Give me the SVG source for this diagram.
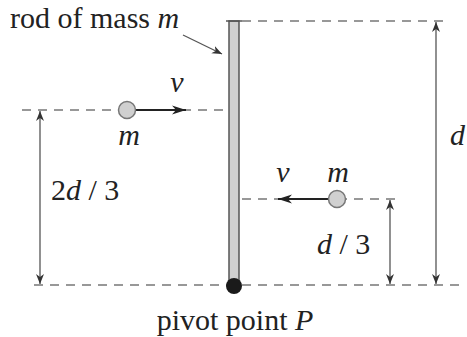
<svg xmlns="http://www.w3.org/2000/svg" width="467" height="337" viewBox="0 0 467 337">
<defs>
<marker id="ah" viewBox="0 0 10 10" refX="10" refY="5" markerWidth="10" markerHeight="10" markerUnits="userSpaceOnUse" orient="auto-start-reverse">
<path d="M0,1 L10,5 L0,9 L3,5 Z" fill="#333"/>
</marker>
<marker id="vh" viewBox="0 0 14 10" refX="14" refY="5" markerWidth="14" markerHeight="10" markerUnits="userSpaceOnUse" orient="auto">
<path d="M0,0.5 L14,5 L0,9.5 L4,5 Z" fill="#222"/>
</marker>
</defs>
<style>
.dash{stroke:#777;stroke-width:1.5;stroke-dasharray:9,7;fill:none}
.dim{stroke:#555;stroke-width:1.3;fill:none}
.t{font-family:'Liberation Serif','Times New Roman',serif;font-size:30px;fill:#222}
.i{font-style:italic}
.ball{fill:#d0d0d0;stroke:#777;stroke-width:1.5}
.vel{stroke:#222;stroke-width:1.8;fill:none}
</style>
<g id="connectors">
<line class="dash" x1="242" y1="21" x2="448" y2="21"/>
<line class="dash" x1="22" y1="110" x2="228" y2="110"/>
<line class="dash" x1="242" y1="199" x2="400" y2="199"/>
<line class="dash" x1="34" y1="285" x2="466" y2="285"/>
<line class="dim" x1="436" y1="22" x2="436" y2="284" marker-start="url(#ah)" marker-end="url(#ah)"/>
<line class="dim" x1="40" y1="111" x2="40" y2="284" marker-start="url(#ah)" marker-end="url(#ah)"/>
<line class="dim" x1="390" y1="200" x2="390" y2="284" marker-start="url(#ah)" marker-end="url(#ah)"/>
<line class="dim" x1="183" y1="35" x2="222" y2="54" marker-end="url(#ah)"/>
<line class="vel" x1="136" y1="110" x2="186" y2="110" marker-end="url(#vh)"/>
<line class="vel" x1="328" y1="199" x2="278" y2="199" marker-end="url(#vh)"/>
</g>
<g id="rod">
<rect x="229" y="21" width="10" height="264" fill="#d0d0d0" stroke="#555" stroke-width="1.5"/>
<line x1="226" y1="21" x2="242" y2="21" stroke="#555" stroke-width="1.5"/>
<text class="t" x="10" y="28" font-size="31">rod of mass <tspan class="i">m</tspan></text>
</g>
<g id="pivot">
<circle cx="234" cy="286" r="8" fill="#1a1a1a"/>
<text class="t" x="235" y="330" text-anchor="middle" font-size="31">pivot point <tspan class="i">P</tspan></text>
</g>
<g id="mass1">
<circle class="ball" cx="127" cy="110" r="8.5"/>
<text class="t i" x="129" y="145" text-anchor="middle">m</text>
<text class="t i" x="177" y="92" text-anchor="middle">v</text>
</g>
<g id="mass2">
<circle class="ball" cx="337" cy="199" r="8.5"/>
<text class="t i" x="338" y="182" text-anchor="middle">m</text>
<text class="t i" x="283" y="182" text-anchor="middle">v</text>
</g>
<g id="labels">
<text class="t" x="51" y="200">2<tspan class="i">d</tspan> / 3</text>
<text class="t" x="317" y="254"><tspan class="i">d</tspan> / 3</text>
<text class="t i" x="450" y="145">d</text>
</g>
</svg>
